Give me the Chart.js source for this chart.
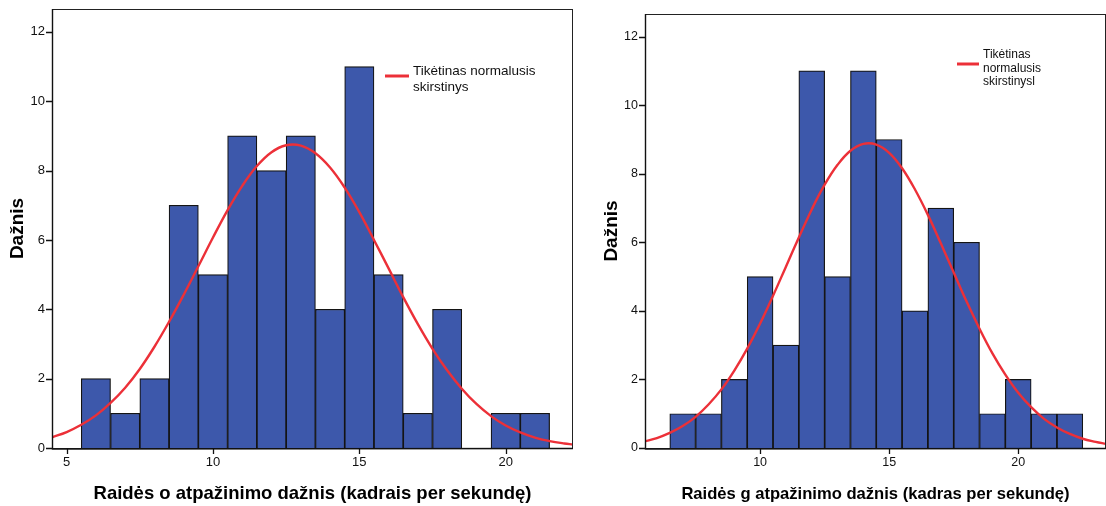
<!DOCTYPE html>
<html>
<head>
<meta charset="utf-8">
<script src="https://cdn.jsdelivr.net/npm/chart.js@4/dist/chart.umd.min.js"></script>
<style>
  html, body { margin: 0; padding: 0; background: #fff; }
  #wrap { position: relative; width: 1106px; height: 506px; overflow: hidden; }
  .box { position: absolute; top: 0; height: 506px; }
  canvas { display: block; }
</style>
</head>
<body>
<div id="wrap">
  <div class="box" style="left:0;width:578px"><canvas id="chartO" width="578" height="506"></canvas></div>
  <div class="box" style="left:580px;width:526px"><canvas id="chartG" width="526" height="506"></canvas></div>
</div>
<script>
// Letter "o": recognition rate histogram (bin centres and counts)
const binsO   = [6, 7, 8, 9, 10, 11, 12, 13, 14, 15, 16, 17, 18, 19, 20, 21];
const countsO = [2, 1, 2, 7, 5, 9, 8, 9, 4, 11, 5, 1, 4, 0, 1, 1];
// Expected normal curve for "o"
const curveXO = [4.5, 5, 5.5, 6, 6.5, 7, 7.5, 8, 8.5, 9, 9.5, 10, 10.5, 11, 11.5, 12, 12.5, 13, 13.5, 14, 14.5, 15, 15.5, 16, 16.5, 17, 17.5, 18, 18.5, 19, 19.5, 20, 20.5, 21, 21.5, 22, 22.3];
const curveYO = [0.31, 0.46, 0.67, 0.94, 1.30, 1.74, 2.28, 2.92, 3.64, 4.42, 5.24, 6.07, 6.86, 7.56, 8.13, 8.53, 8.73, 8.72, 8.50, 8.09, 7.51, 6.80, 6.00, 5.18, 4.35, 3.57, 2.86, 2.24, 1.71, 1.27, 0.92, 0.65, 0.45, 0.30, 0.20, 0.13, 0.10];

// Letter "g": recognition rate histogram
const binsG   = [7, 8, 9, 10, 11, 12, 13, 14, 15, 16, 17, 18, 19, 20, 21, 22];
const countsG = [1, 1, 2, 5, 3, 11, 5, 11, 9, 4, 7, 6, 1, 2, 1, 1];
// Expected normal curve for "g"
const curveXG = [5.5, 6, 6.5, 7, 7.5, 8, 8.5, 9, 9.5, 10, 10.5, 11, 11.5, 12, 12.5, 13, 13.5, 14, 14.5, 15, 15.5, 16, 16.5, 17, 17.5, 18, 18.5, 19, 19.5, 20, 20.5, 21, 21.5, 22, 22.5, 23, 23.4];
const curveYG = [0.19, 0.29, 0.44, 0.64, 0.91, 1.27, 1.71, 2.26, 2.90, 3.63, 4.44, 5.29, 6.14, 6.96, 7.68, 8.26, 8.67, 8.87, 8.85, 8.61, 8.16, 7.54, 6.80, 5.97, 5.12, 4.27, 3.48, 2.76, 2.14, 1.61, 1.19, 0.85, 0.60, 0.41, 0.27, 0.18, 0.12];

// Axis ticks
const xTicksO = [5, 10, 15, 20];
const xTicksG = [10, 15, 20];
const yTicks  = [0, 2, 4, 6, 8, 10, 12];

const BAR_FILL = '#3d58ab';
const BAR_EDGE = '#141414';
const CURVE    = '#ec3038';
const FONT     = "'Liberation Sans', Arial, sans-serif";
const TICK_LEN = 6;

// Box around the plotting area, plus outward tick marks at each tick value
const framePlugin = {
  id: 'frame',
  afterDatasetsDraw(chart) {
    const { ctx, chartArea: a, scales } = chart;
    const L = Math.round(a.left), R = Math.round(a.right);
    const T = Math.round(a.top), B = Math.round(a.bottom);
    ctx.save();
    ctx.strokeStyle = '#222';
    ctx.lineWidth = 1;
    ctx.strokeRect(L + 0.5, T + 0.5, R - L - 1, B - T);
    // axis lines a little heavier
    ctx.beginPath();
    ctx.moveTo(L + 0.5, T);
    ctx.lineTo(L + 0.5, B + 1);
    ctx.lineTo(R, B + 0.5);
    ctx.lineWidth = 1.4;
    ctx.strokeStyle = '#111';
    ctx.stroke();
    // tick marks
    ctx.beginPath();
    ctx.lineWidth = 1.3;
    scales.x.ticks.forEach(t => {
      const px = Math.round(scales.x.getPixelForValue(t.value)) + 0.5;
      ctx.moveTo(px, B);
      ctx.lineTo(px, B + TICK_LEN);
    });
    scales.y.ticks.forEach(t => {
      const py = Math.round(scales.y.getPixelForValue(t.value)) + 0.5;
      ctx.moveTo(L - TICK_LEN, py);
      ctx.lineTo(L, py);
    });
    ctx.stroke();
    ctx.restore();
  }
};

// Curve legend drawn inside the plot: a red stroke with wrapped text
const curveLegend = {
  id: 'curveLegend',
  afterDraw(chart, args, opts) {
    const { ctx } = chart;
    ctx.save();
    ctx.strokeStyle = CURVE;
    ctx.lineWidth = 3;
    ctx.beginPath();
    ctx.moveTo(opts.x1, opts.y);
    ctx.lineTo(opts.x2, opts.y);
    ctx.stroke();
    ctx.fillStyle = '#111';
    ctx.font = opts.size + 'px ' + FONT;
    ctx.textBaseline = 'middle';
    ctx.textAlign = 'left';
    opts.lines.forEach((t, i) => ctx.fillText(t, opts.tx, opts.ty + i * opts.lh));
    ctx.restore();
  }
};

function makeChart(id, cfg) {
  const bars = cfg.bins.map((b, i) => ({ x: b, y: cfg.counts[i] }));
  const curve = cfg.curveX.map((x, i) => ({ x: x, y: cfg.curveY[i] }));
  return new Chart(document.getElementById(id), {
    type: 'bar',
    data: {
      datasets: [
        {
          type: 'line',
          data: curve,
          borderColor: CURVE,
          borderWidth: 2.4,
          pointRadius: 0,
          tension: 0.4,
          fill: false,
          order: 0
        },
        {
          type: 'bar',
          data: bars,
          backgroundColor: BAR_FILL,
          borderColor: BAR_EDGE,
          borderWidth: 1.2,
          barPercentage: 1,
          categoryPercentage: 1,
          order: 1
        }
      ]
    },
    options: {
      responsive: false,
      animation: false,
      events: [],
      layout: { padding: { top: cfg.top, right: cfg.right, left: 0, bottom: 0 } },
      plugins: {
        legend: { display: false },
        tooltip: { enabled: false },
        curveLegend: cfg.legend
      },
      scales: {
        x: {
          type: 'linear',
          min: cfg.xmin,
          max: cfg.xmax,
          offset: false,
          afterBuildTicks: s => { s.ticks = cfg.xTicks.map(v => ({ value: v })); },
          afterFit: s => { s.height = 58; s.paddingLeft = 0; s.paddingRight = 0; },
          ticks: { color: '#111', font: { family: FONT, size: cfg.tickSize }, padding: 1 + TICK_LEN, maxRotation: 0 },
          grid: { display: false, drawTicks: false },
          border: { display: false },
          title: {
            display: true,
            text: cfg.xTitle,
            color: '#000',
            font: { family: FONT, size: cfg.xTitleSize, weight: 'bold' },
            padding: { top: 0, bottom: cfg.xTitlePad }
          }
        },
        y: {
          type: 'linear',
          min: 0,
          max: 12.66,
          afterBuildTicks: s => { s.ticks = yTicks.map(v => ({ value: v })); },
          afterFit: s => { s.width = cfg.yWidth; s.paddingTop = 0; s.paddingBottom = 0; },
          ticks: { color: '#111', font: { family: FONT, size: cfg.tickSize }, padding: 1 + TICK_LEN },
          grid: { display: false, drawTicks: false },
          border: { display: false },
          title: {
            display: true,
            text: 'Dažnis',
            color: '#000',
            font: { family: FONT, size: 19, weight: 'bold' },
            padding: { top: cfg.yTitlePad, bottom: 0 }
          }
        }
      }
    },
    plugins: [framePlugin, curveLegend]
  });
}

makeChart('chartO', {
  bins: binsO, counts: countsO, curveX: curveXO, curveY: curveYO,
  xTicks: xTicksO, xmin: 4.5, xmax: 22.3, tickSize: 13,
  top: 9, right: 5, yWidth: 52, yTitlePad: 6,
  xTitle: 'Raidės o atpažinimo dažnis (kadrais per sekundę)', xTitleSize: 18.5, xTitlePad: 1,
  legend: { x1: 385, x2: 409, y: 76, tx: 413, ty: 71, lh: 16, size: 13.5,
            lines: ['Tikėtinas normalusis', 'skirstinys'] }
});

makeChart('chartG', {
  bins: binsG, counts: countsG, curveX: curveXG, curveY: curveYG,
  xTicks: xTicksG, xmin: 5.54, xmax: 23.4, tickSize: 12.5,
  top: 14, right: 0, yWidth: 65, yTitlePad: 20,
  xTitle: 'Raidės g atpažinimo dažnis (kadras per sekundę)', xTitleSize: 16.6, xTitlePad: 2,
  legend: { x1: 377, x2: 399, y: 64, tx: 403, ty: 55, lh: 13.5, size: 12,
            lines: ['Tikėtinas', 'normalusis', 'skirstinysl'] }
});
</script>
</body>
</html>
